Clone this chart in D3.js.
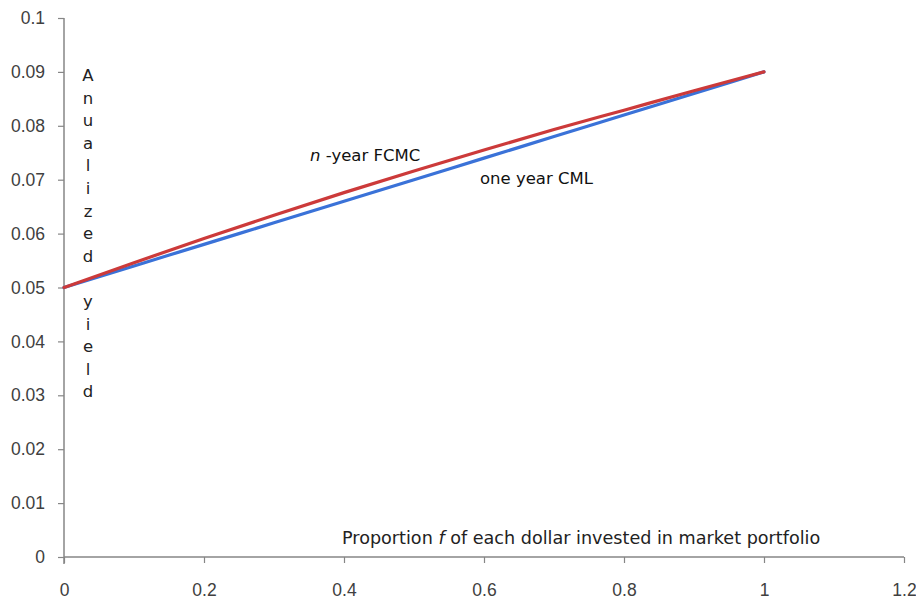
<!DOCTYPE html>
<html>
<head>
<meta charset="utf-8">
<script src="https://cdn.jsdelivr.net/npm/d3@7/dist/d3.min.js"></script>
<style>
  html, body { margin: 0; padding: 0; background: #ffffff; }
  svg { display: block; }
</style>
</head>
<body>
<svg id="chart" width="916" height="599"></svg>
<script>
// ---- data ----
const proportions = [0, 0.1, 0.2, 0.3, 0.4, 0.5, 0.6, 0.7, 0.8, 0.9, 1.0];
const cmlYield   = [0.050, 0.054, 0.058, 0.062, 0.066, 0.070, 0.074, 0.078, 0.082, 0.086, 0.090];
const fcmcYield  = [0.050, 0.0546, 0.0591, 0.0634, 0.0676, 0.0716, 0.0755, 0.0793, 0.0829, 0.0865, 0.090];
const xTicks = [0, 0.2, 0.4, 0.6, 0.8, 1, 1.2];
const yTicks = [0, 0.01, 0.02, 0.03, 0.04, 0.05, 0.06, 0.07, 0.08, 0.09, 0.1];
const yLabelText = "Anualized yield";
const xLabelText = ["Proportion ", "f", " of each dollar invested in market portfolio"];

(function () {
// ---- layout ----
const svg = d3.select("#chart");
const mLeft = 64, mRight = 904, mTop = 18, mBottom = 557;
const x = d3.scaleLinear().domain([0, 1.2]).range([mLeft, mRight]);
const y = d3.scaleLinear().domain([0, 0.1]).range([mBottom, mTop]);
const axisColor = "#868686";
const tickFont = "'Liberation Sans', Arial, sans-serif";
const textFont = "'DejaVu Sans', Verdana, sans-serif";

// y axis
const yAxis = svg.append("g").attr("transform", `translate(${mLeft},0)`)
  .call(d3.axisLeft(y).tickValues(yTicks).tickSize(6).tickPadding(13)
        .tickFormat(d => d === 0 ? "0" : d3.format("~g")(+d.toFixed(2))));
yAxis.select(".domain").attr("stroke", axisColor).attr("stroke-width", 1.5).attr("d", `M0,${mTop}V${mBottom + 7}`);
yAxis.selectAll(".tick line").attr("stroke", axisColor).attr("stroke-width", 1.2);
yAxis.selectAll(".tick text").attr("fill", "#404040").style("font-family", tickFont).style("font-size", "17.5px");

// x axis
const xAxis = svg.append("g").attr("transform", `translate(0,${mBottom})`)
  .call(d3.axisBottom(x).tickValues(xTicks).tickSize(6).tickPadding(21)
        .tickFormat(d => d3.format("~g")(d)));
xAxis.select(".domain").attr("stroke", axisColor).attr("stroke-width", 1.5).attr("d", `M${mLeft},0H${mRight}`);
xAxis.selectAll(".tick line").attr("stroke", axisColor).attr("stroke-width", 1.2);
xAxis.selectAll(".tick text").attr("fill", "#404040").style("font-family", tickFont).style("font-size", "17.5px");

// lines
const cmlData = proportions.map((p, i) => [p, cmlYield[i]]);
const fcmcData = proportions.map((p, i) => [p, fcmcYield[i]]);
const line = d3.line().x(d => x(d[0])).y(d => y(d[1])).curve(d3.curveMonotoneX);

svg.append("path").datum(cmlData).attr("d", line)
  .attr("fill", "none").attr("stroke", "#3a72d8").attr("stroke-width", 3.2).attr("stroke-linecap", "round");
svg.append("path").datum(fcmcData).attr("d", line)
  .attr("fill", "none").attr("stroke", "#cc3a3a").attr("stroke-width", 3.2).attr("stroke-linecap", "round");

// annotations
const ann1 = svg.append("text").attr("x", 310).attr("y", 161)
  .style("font-family", textFont).style("font-size", "16.5px").attr("fill", "#111");
ann1.append("tspan").style("font-style", "italic").text("n");
ann1.append("tspan").text(" -year FCMC");

svg.append("text").attr("x", 480).attr("y", 184)
  .style("font-family", textFont).style("font-size", "16.5px").attr("fill", "#111")
  .text("one year CML");

// x axis title
const xt = svg.append("text").attr("x", 342).attr("y", 544)
  .style("font-family", textFont).style("font-size", "17.6px").attr("fill", "#222");
xt.append("tspan").text(xLabelText[0]);
xt.append("tspan").style("font-style", "italic").text(xLabelText[1]);
xt.append("tspan").text(xLabelText[2]);

// y axis title: stacked letters
const chars = Array.from(yLabelText);
svg.append("g").selectAll("text").data(chars).join("text")
  .attr("x", 88).attr("y", (d, i) => 81 + i * 22.6)
  .attr("text-anchor", "middle")
  .style("font-family", textFont).style("font-size", "16.5px").attr("fill", "#222")
  .text(d => d);
})();
</script>
</body>
</html>
